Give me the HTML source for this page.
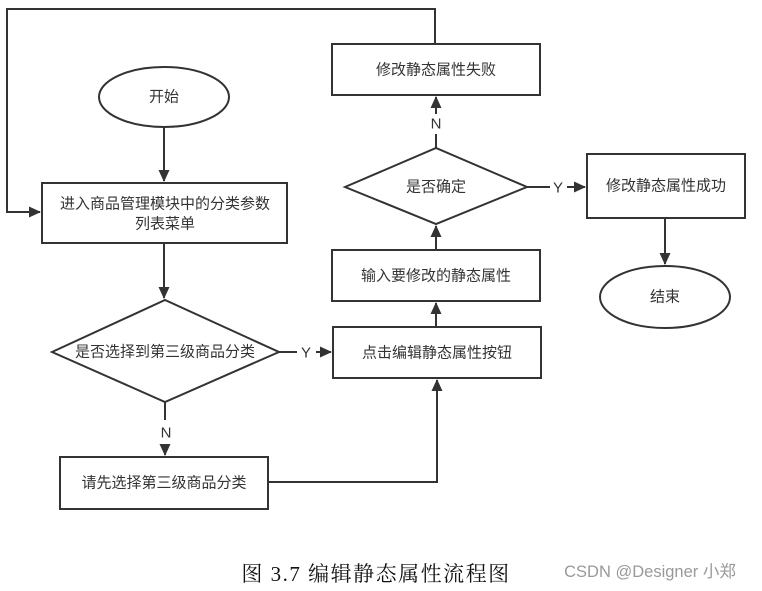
<!DOCTYPE html>
<html><head><meta charset="utf-8"><style>
body{margin:0;background:#fff;width:762px;height:591px;overflow:hidden}
svg{display:block}
text{font-family:"Liberation Sans","Noto Sans CJK SC",sans-serif;font-size:15px;fill:#333;text-anchor:middle;dominant-baseline:central}
</style></head><body>
<svg width="762" height="591" viewBox="0 0 762 591">
<defs><marker id="a" markerWidth="12" markerHeight="12" refX="11" refY="6" orient="auto" markerUnits="userSpaceOnUse"><path d="M0,0.5 L12,6 L0,11.5z" fill="#333"/></marker></defs>
<g stroke="#333" stroke-width="2" fill="none">
<ellipse cx="164" cy="97" rx="65" ry="30"/>
<rect x="42" y="183" width="245" height="60"/>
<polygon points="52,352 165,300 279,352 165,402"/>
<rect x="60" y="457" width="208" height="52"/>
<rect x="333" y="327" width="208" height="51"/>
<rect x="332" y="250" width="208" height="51"/>
<polygon points="345,187 436,148 527,187 436,224"/>
<rect x="332" y="44" width="208" height="51"/>
<rect x="587" y="154" width="158" height="64"/>
<ellipse cx="665" cy="297" rx="65" ry="31"/>
<path d="M164,127 V181" marker-end="url(#a)"/>
<path d="M164,243 V298" marker-end="url(#a)"/>
<path d="M279,352 H297 M316,352 H331" marker-end="url(#a)"/>
<path d="M165,402 V420 M165,444 V455" marker-end="url(#a)"/>
<path d="M268,482 H437 V380" marker-end="url(#a)"/>
<path d="M436,327 V303" marker-end="url(#a)"/>
<path d="M436,250 V226" marker-end="url(#a)"/>
<path d="M436,148 V134 M436,114 V97" marker-end="url(#a)"/>
<path d="M527,187 H550 M567,187 H585" marker-end="url(#a)"/>
<path d="M665,218 V264" marker-end="url(#a)"/>
<path d="M435,44 V9 H7 V212 H40" marker-end="url(#a)"/>
</g>
<text x="164" y="97">开始</text>
<text x="165" y="204">进入商品管理模块中的分类参数</text>
<text x="165" y="224">列表菜单</text>
<text x="165" y="352">是否选择到第三级商品分类</text>
<text x="306" y="353">Y</text>
<text x="166" y="433">N</text>
<text x="164" y="483">请先选择第三级商品分类</text>
<text x="437" y="353">点击编辑静态属性按钮</text>
<text x="436" y="276">输入要修改的静态属性</text>
<text x="436" y="187">是否确定</text>
<text x="436" y="124">N</text>
<text x="558" y="188">Y</text>
<text x="436" y="70">修改静态属性失败</text>
<text x="666" y="186">修改静态属性成功</text>
<text x="665" y="297">结束</text>
<text x="376" y="574" style="font-family:'Liberation Serif','Noto Serif CJK SC',serif;font-size:21px;letter-spacing:1.5px;fill:#111">图 3.7 编辑静态属性流程图</text>
<text x="650" y="572" style="font-size:16.5px;fill:#999">CSDN @Designer 小郑</text>
</svg>
</body></html>
